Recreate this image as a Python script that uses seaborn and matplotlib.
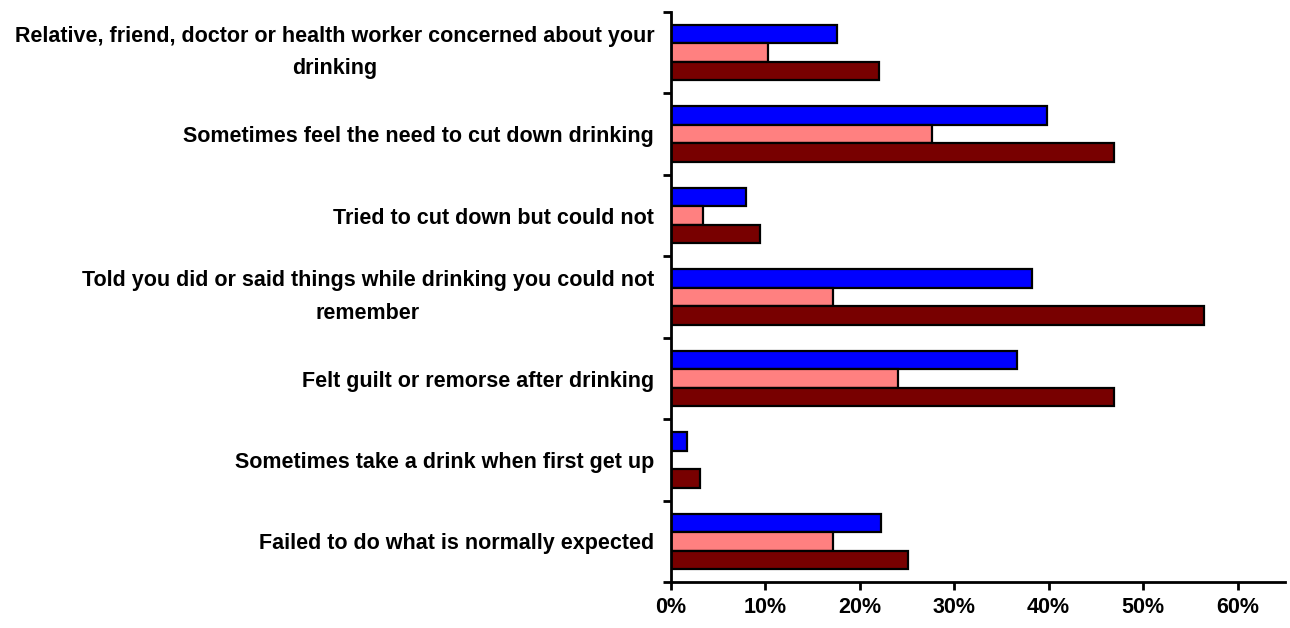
import matplotlib
matplotlib.use("Agg")
import matplotlib.pyplot as plt
import seaborn as sns
import pandas as pd
import numpy as np
from matplotlib.ticker import FixedLocator, PercentFormatter

categories = [
    "Relative, friend, doctor or health worker concerned about your\ndrinking",
    "Sometimes feel the need to cut down drinking",
    "Tried to cut down but could not",
    "Told you did or said things while drinking you could not\nremember",
    "Felt guilt or remorse after drinking",
    "Sometimes take a drink when first get up",
    "Failed to do what is normally expected",
]
series_names = ["Series 1", "Series 2", "Series 3"]
series1 = [17.6, 39.8, 8.0, 38.2, 36.6, 1.7, 22.3]
series2 = [10.3, 27.6, 3.4, 17.2, 24.1, np.nan, 17.2]
series3 = [22.0, 46.9, 9.4, 56.4, 46.9, 3.1, 25.1]
colors = ["#0000FF", "#FF8080", "#780000"]
xticks = [0, 10, 20, 30, 40, 50, 60]

rows = []
for name, vals in zip(series_names, [series1, series2, series3]):
    for c, v in zip(categories, vals):
        rows.append({"category": c, "series": name, "value": v})
df = pd.DataFrame(rows)

sns.set_style("white")
plt.rcParams["font.family"] = ["Liberation Sans", "DejaVu Sans"]
plt.rcParams["text.color"] = "black"
plt.rcParams["xtick.color"] = "black"
plt.rcParams["ytick.color"] = "black"

fig = plt.figure(figsize=(12.9, 6.28), dpi=100)
ax = fig.add_axes([0.52, 0.073, 0.476, 0.908])

sns.barplot(data=df, y="category", x="value", hue="series", order=categories,
            hue_order=series_names, palette=colors, saturation=1, orient="h", width=0.68,
            edgecolor="black", linewidth=1.6, legend=False, ax=ax, errorbar=None)

ax.set_xlim(0, 65)
ax.set_ylim(len(categories) - 0.5, -0.5)
ax.set_xlabel("")
ax.set_ylabel("")
ax.xaxis.set_major_locator(FixedLocator(xticks))
ax.xaxis.set_major_formatter(PercentFormatter(decimals=0))

ax.yaxis.set_minor_locator(FixedLocator(np.arange(-0.5, len(categories), 1.0)))
ax.tick_params(axis="y", which="major", length=0, pad=12, labelcolor="black")
ax.tick_params(axis="y", which="minor", length=6, width=2, color="black", direction="out", left=True)
ax.tick_params(axis="x", which="major", length=6, width=2, color="black", direction="out", bottom=True, pad=5, labelcolor="black")

for lab in ax.get_yticklabels():
    lab.set_fontweight("bold")
    lab.set_fontsize(15.5)
    lab.set_multialignment("center")
    lab.set_linespacing(1.7)
    if "\n" in lab.get_text():
        lab.set_verticalalignment("center")
for lab in ax.get_xticklabels():
    lab.set_fontweight("bold")
    lab.set_fontsize(15.5)

for s in ["top", "right"]:
    ax.spines[s].set_visible(False)
for s in ["left", "bottom"]:
    ax.spines[s].set_color("black")
    ax.spines[s].set_linewidth(2)

fig.savefig("out.png", dpi=100)
